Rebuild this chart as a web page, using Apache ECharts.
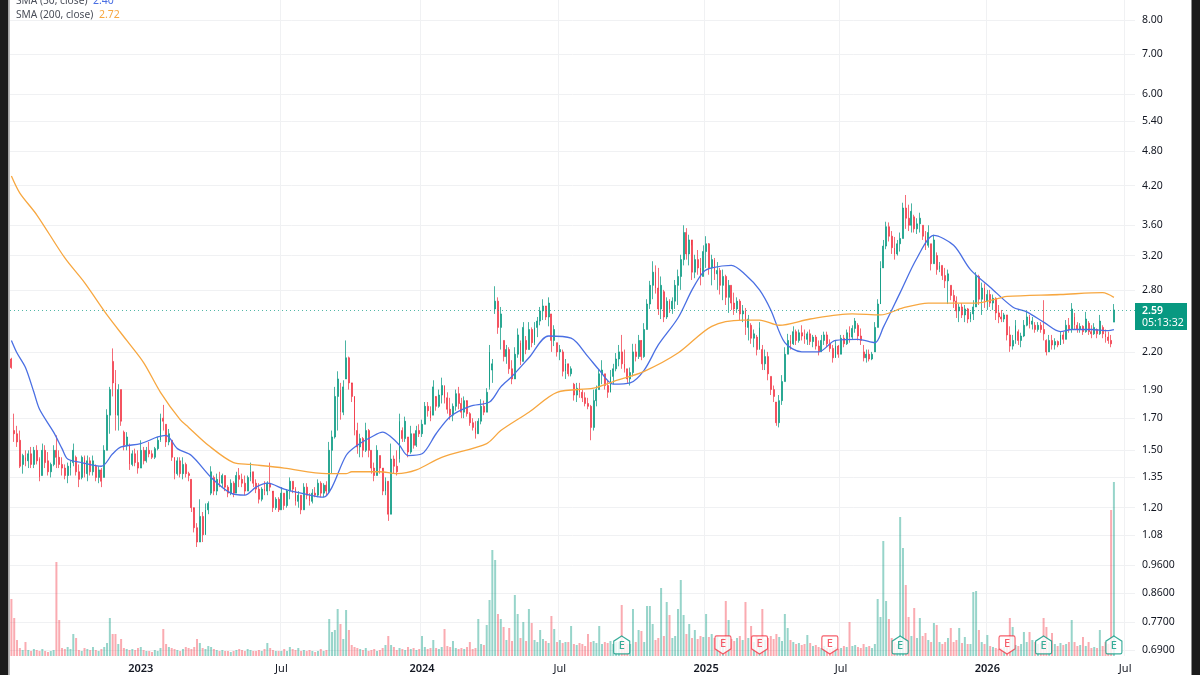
<!DOCTYPE html><html><head><meta charset="utf-8"></head><body style="margin:0;background:#fff"><div id="c" style="width:1200px;height:675px"></div>
<script src="https://cdn.jsdelivr.net/npm/echarts@6/dist/echarts.min.js"></script>
<script>
// open, high, low, close
const candles2022H2=[[2.14,2.15,2.06,2.07],[1.62,1.73,1.55,1.60],[1.60,1.65,1.52,1.55],[1.56,1.62,1.40,1.41],[1.42,1.48,1.37,1.47],[1.46,1.50,1.41,1.44],[1.44,1.50,1.40,1.48],[1.48,1.52,1.40,1.42],[1.42,1.52,1.40,1.50],[1.50,1.53,1.42,1.44],
[1.45,1.46,1.33,1.35],[1.36,1.54,1.36,1.50],[1.50,1.53,1.40,1.43],[1.44,1.49,1.36,1.38],[1.38,1.43,1.35,1.42],[1.42,1.53,1.41,1.50],[1.50,1.59,1.40,1.46],[1.46,1.50,1.40,1.42],[1.42,1.46,1.36,1.40],[1.40,1.42,1.34,1.36],
[1.36,1.43,1.32,1.41],[1.40,1.44,1.36,1.43],[1.43,1.54,1.41,1.50],[1.46,1.47,1.36,1.38],[1.38,1.42,1.30,1.34],[1.35,1.47,1.34,1.46],[1.46,1.47,1.35,1.37],[1.37,1.47,1.33,1.44],[1.44,1.46,1.36,1.38],[1.38,1.47,1.36,1.44],
[1.41,1.42,1.33,1.35],[1.35,1.41,1.32,1.39],[1.39,1.40,1.30,1.33],[1.35,1.53,1.35,1.50],[1.50,1.76,1.50,1.72],[1.72,1.92,1.60,1.90],[2.12,2.23,1.85,1.95],[1.95,2.05,1.62,1.72],[1.72,1.94,1.62,1.90],[1.90,1.90,1.65,1.68],
[1.61,1.62,1.50,1.53],[1.53,1.61,1.50,1.58],[1.53,1.54,1.39,1.42],[1.42,1.50,1.41,1.48],[1.48,1.51,1.41,1.43],[1.43,1.50,1.37,1.40]];
const candles2023H1=[[1.40,1.56,1.40,1.50],[1.50,1.52,1.42,1.44],[1.44,1.52,1.43,1.50],[1.50,1.55,1.46,1.48],[1.48,1.50,1.45,1.46],[1.46,1.52,1.45,1.51],[1.51,1.58,1.50,1.56],[1.56,1.73,1.55,1.70],[1.70,1.79,1.62,1.68],[1.66,1.66,1.52,1.55],
[1.55,1.63,1.53,1.60],[1.56,1.56,1.44,1.46],[1.46,1.46,1.34,1.37],[1.37,1.46,1.36,1.44],[1.44,1.46,1.35,1.37],[1.37,1.46,1.34,1.42],[1.42,1.43,1.35,1.37],[1.37,1.38,1.33,1.36],[1.34,1.34,1.18,1.20],[1.20,1.19,1.09,1.11],
[1.11,1.13,1.03,1.05],[1.05,1.24,1.05,1.16],[1.16,1.18,1.05,1.08],[1.08,1.22,1.08,1.19],[1.19,1.23,1.17,1.22],[1.27,1.41,1.26,1.38],[1.35,1.36,1.26,1.28],[1.28,1.37,1.26,1.34],[1.34,1.38,1.30,1.32],[1.32,1.37,1.30,1.36],
[1.36,1.36,1.28,1.30],[1.30,1.31,1.25,1.27],[1.27,1.34,1.26,1.32],[1.32,1.33,1.25,1.27],[1.27,1.38,1.27,1.36],[1.36,1.40,1.30,1.34],[1.34,1.37,1.30,1.32],[1.32,1.36,1.26,1.28],[1.28,1.36,1.28,1.35],[1.35,1.43,1.33,1.38],
[1.38,1.38,1.30,1.32],[1.32,1.34,1.27,1.29],[1.29,1.32,1.22,1.24],[1.24,1.30,1.23,1.29],[1.29,1.33,1.26,1.28],[1.28,1.33,1.26,1.32],[1.32,1.43,1.28,1.30],[1.28,1.27,1.18,1.20],[1.20,1.25,1.19,1.24],[1.24,1.25,1.18,1.19]];
const candles2023H2=[[1.19,1.30,1.19,1.27],[1.27,1.27,1.19,1.21],[1.21,1.29,1.20,1.28],[1.28,1.35,1.24,1.33],[1.33,1.33,1.27,1.29],[1.29,1.30,1.21,1.23],[1.23,1.28,1.20,1.26],[1.26,1.26,1.17,1.19],[1.19,1.32,1.19,1.30],[1.30,1.32,1.24,1.26],
[1.26,1.27,1.21,1.23],[1.23,1.29,1.22,1.27],[1.27,1.30,1.25,1.26],[1.26,1.34,1.25,1.32],[1.32,1.33,1.25,1.27],[1.27,1.32,1.25,1.31],[1.31,1.33,1.26,1.28],[1.28,1.55,1.27,1.50],[1.50,1.62,1.37,1.58],[1.58,1.92,1.57,1.85],
[1.85,2.04,1.62,1.98],[1.90,1.95,1.69,1.74],[1.74,1.97,1.72,1.92],[1.98,2.30,1.98,2.15],[2.15,2.16,1.90,1.95],[1.95,1.94,1.81,1.85],[1.85,1.81,1.59,1.62],[1.62,1.67,1.48,1.52],[1.52,1.60,1.46,1.57],[1.57,1.58,1.46,1.50],
[1.50,1.67,1.49,1.62],[1.62,1.63,1.46,1.50],[1.50,1.50,1.37,1.40],[1.40,1.43,1.33,1.36],[1.36,1.53,1.36,1.50],[1.47,1.47,1.37,1.40],[1.40,1.39,1.26,1.28],[1.28,1.35,1.26,1.33],[1.33,1.33,1.14,1.17],[1.17,1.54,1.17,1.45],
[1.45,1.47,1.37,1.41],[1.41,1.50,1.36,1.38],[1.45,1.73,1.43,1.68],[1.62,1.64,1.55,1.57],[1.57,1.71,1.55,1.68],[1.58,1.58,1.46,1.49],[1.49,1.65,1.48,1.60],[1.60,1.60,1.51,1.53],[1.53,1.65,1.52,1.62],[1.62,1.66,1.58,1.60]];
const candles2024H1=[[1.60,1.69,1.58,1.66],[1.66,1.81,1.66,1.78],[1.78,1.81,1.71,1.75],[1.75,1.78,1.68,1.70],[1.72,1.97,1.72,1.92],[1.85,1.84,1.75,1.78],[1.78,1.90,1.77,1.86],[1.86,1.99,1.80,1.93],[1.93,1.93,1.80,1.84],[1.84,1.88,1.73,1.76],
[1.76,1.84,1.69,1.72],[1.72,1.80,1.68,1.78],[1.78,1.90,1.75,1.87],[1.87,1.92,1.76,1.80],[1.80,1.84,1.70,1.74],[1.74,1.85,1.70,1.82],[1.82,1.81,1.71,1.73],[1.73,1.74,1.65,1.67],[1.67,1.70,1.62,1.64],[1.64,1.68,1.57,1.60],
[1.60,1.70,1.60,1.68],[1.68,1.83,1.66,1.78],[1.78,1.82,1.72,1.74],[1.74,1.91,1.74,1.88],[1.92,2.26,1.90,2.20],[2.05,2.14,1.95,2.10],[2.60,2.84,2.55,2.68],[2.68,2.72,2.36,2.42],[2.42,2.62,2.22,2.55],[2.30,2.30,2.12,2.16],
[2.16,2.26,2.10,2.22],[2.22,2.24,2.02,2.06],[2.06,2.13,1.94,1.98],[1.98,2.24,1.98,2.18],[2.18,2.41,2.15,2.35],[2.28,2.30,2.09,2.12],[2.12,2.47,2.12,2.42],[2.30,2.34,2.18,2.22],[2.22,2.47,2.22,2.40],[2.40,2.42,2.24,2.28],
[2.28,2.47,2.26,2.42],[2.42,2.52,2.33,2.48],[2.48,2.62,2.44,2.58],[2.58,2.70,2.49,2.63],[2.63,2.62,2.49,2.52],[2.52,2.72,2.43,2.66],[2.55,2.55,2.20,2.30],[2.30,2.44,2.25,2.40],[2.28,2.28,2.16,2.20],[2.20,2.26,2.13,2.22]];
const candles2024H2=[[2.20,2.22,2.00,2.04],[2.04,2.14,1.98,2.10],[2.10,2.07,2.00,2.02],[2.02,2.08,2.00,2.06],[1.94,1.95,1.82,1.86],[1.86,1.95,1.81,1.91],[1.91,1.95,1.84,1.88],[1.88,1.90,1.81,1.84],[1.84,1.88,1.78,1.80],[1.80,1.84,1.76,1.78],
[1.78,1.79,1.56,1.64],[1.64,1.90,1.62,1.82],[1.82,1.93,1.78,1.90],[1.90,2.05,1.90,2.02],[2.02,2.13,1.94,2.05],[2.02,2.02,1.90,1.93],[1.93,1.97,1.84,1.88],[1.88,2.05,1.88,2.00],[2.00,2.10,1.94,2.06],[2.06,2.19,2.04,2.14],
[2.14,2.26,2.08,2.20],[2.20,2.35,2.06,2.10],[2.10,2.22,2.03,2.06],[2.06,2.06,1.95,1.98],[1.98,2.07,1.93,2.03],[2.03,2.27,2.00,2.20],[2.20,2.27,2.12,2.16],[2.16,2.35,2.14,2.30],[2.30,2.29,2.13,2.16],[2.16,2.46,2.15,2.40],
[2.40,2.70,2.40,2.65],[2.65,2.90,2.60,2.85],[2.85,3.13,2.70,3.00],[3.00,3.08,2.76,2.82],[2.82,3.05,2.54,2.60],[2.60,2.95,2.50,2.85],[2.78,2.80,2.47,2.52],[2.52,2.72,2.50,2.68],[2.68,2.70,2.56,2.60],[2.60,2.72,2.55,2.68],
[2.68,2.91,2.60,2.85],[2.85,3.03,2.64,2.95],[2.95,3.21,2.80,3.15],[3.15,3.60,3.08,3.50],[3.50,3.56,3.15,3.22],[3.22,3.47,3.08,3.40],[3.40,3.33,2.91,3.00],[3.00,3.21,2.93,3.15],[3.15,3.27,2.97,3.05],[3.05,3.17,2.85,2.95],[2.95,3.33,2.95,3.25]];
const candles2025H1=[[3.25,3.45,3.05,3.35],[3.35,3.36,2.97,3.05],[3.05,3.21,2.85,3.15],[3.15,3.17,2.91,2.98],[2.98,3.12,2.80,3.02],[3.02,3.05,2.75,2.85],[2.85,3.03,2.69,2.95],[2.95,2.97,2.64,2.72],[2.72,2.91,2.56,2.85],[2.85,2.85,2.59,2.66],
[2.66,2.77,2.54,2.60],[2.60,2.72,2.56,2.68],[2.68,2.70,2.49,2.55],[2.55,2.64,2.47,2.58],[2.58,2.61,2.35,2.42],[2.42,2.54,2.30,2.50],[2.44,2.46,2.27,2.32],[2.32,2.40,2.24,2.36],[2.33,2.35,2.17,2.22],[2.22,2.47,2.22,2.42],
[2.22,2.26,2.05,2.10],[2.10,2.22,2.05,2.16],[2.16,2.20,1.97,2.02],[2.00,2.00,1.86,1.90],[1.90,1.93,1.81,1.85],[1.81,1.81,1.65,1.67],[1.67,1.86,1.64,1.82],[1.82,2.01,1.79,1.96],[1.96,2.24,1.96,2.18],[2.18,2.36,2.18,2.30],
[2.30,2.35,2.22,2.27],[2.27,2.43,2.26,2.38],[2.38,2.40,2.26,2.30],[2.30,2.40,2.28,2.37],[2.37,2.44,2.30,2.34],[2.34,2.40,2.27,2.31],[2.31,2.38,2.26,2.36],[2.36,2.40,2.26,2.29],[2.29,2.35,2.24,2.33],[2.33,2.35,2.22,2.25],
[2.25,2.30,2.17,2.20],[2.20,2.35,2.20,2.30],[2.30,2.38,2.26,2.35],[2.35,2.38,2.24,2.27],[2.27,2.31,2.20,2.23],[2.23,2.26,2.11,2.15],[2.15,2.30,2.15,2.25],[2.25,2.26,2.15,2.18],[2.18,2.35,2.18,2.32]];
const candles2025H2=[[2.32,2.35,2.24,2.27],[2.27,2.40,2.26,2.37],[2.37,2.43,2.28,2.33],[2.33,2.44,2.31,2.41],[2.41,2.51,2.37,2.48],[2.44,2.46,2.30,2.34],[2.34,2.41,2.26,2.30],[2.20,2.26,2.12,2.15],[2.15,2.22,2.11,2.18],[2.18,2.22,2.12,2.14],
[2.14,2.20,2.13,2.18],[2.20,2.47,2.20,2.42],[2.42,2.70,2.42,2.65],[2.65,3.13,2.65,3.05],[3.05,3.40,3.05,3.32],[3.32,3.65,3.28,3.58],[3.58,3.64,3.38,3.45],[3.45,3.52,3.22,3.30],[3.30,3.44,3.15,3.22],[3.22,3.40,3.20,3.35],
[3.35,3.50,3.25,3.42],[3.42,3.93,3.42,3.85],[3.85,4.05,3.55,3.70],[3.70,3.90,3.52,3.60],[3.60,3.92,3.50,3.80],[3.72,3.75,3.50,3.55],[3.55,3.70,3.48,3.62],[3.62,3.78,3.50,3.70],[3.60,3.60,3.40,3.45],[3.45,3.52,3.27,3.33],
[3.33,3.60,3.30,3.50],[3.35,3.35,3.02,3.10],[3.10,3.47,3.10,3.40],[3.20,3.24,2.97,3.03],[3.03,3.12,3.00,3.08],[3.08,3.08,2.91,2.96],[2.96,3.05,2.82,2.90],[2.90,3.03,2.65,2.98],[2.85,2.85,2.69,2.74],[2.74,2.80,2.61,2.68],
[2.68,2.73,2.51,2.58],[2.58,2.65,2.47,2.62],[2.62,2.66,2.51,2.54],[2.54,2.64,2.47,2.60],[2.60,2.61,2.46,2.50],[2.50,2.57,2.47,2.55],[2.55,2.69,2.49,2.62],[2.62,3.00,2.62,2.95],[2.95,2.97,2.64,2.70],[2.70,2.88,2.54,2.82],[2.82,2.87,2.61,2.68]];
const candles2026H1=[[2.68,2.80,2.59,2.75],[2.75,2.80,2.62,2.66],[2.66,2.75,2.59,2.71],[2.71,2.72,2.49,2.56],[2.56,2.64,2.46,2.52],[2.52,2.59,2.47,2.50],[2.50,2.56,2.47,2.54],[2.54,2.54,2.30,2.35],[2.35,2.43,2.20,2.25],[2.25,2.35,2.22,2.30],
[2.30,2.49,2.27,2.44],[2.38,2.40,2.26,2.30],[2.30,2.37,2.24,2.34],[2.34,2.49,2.33,2.44],[2.44,2.57,2.43,2.52],[2.52,2.54,2.41,2.45],[2.45,2.52,2.40,2.48],[2.44,2.47,2.37,2.40],[2.40,2.47,2.38,2.44],[2.44,2.47,2.37,2.40],
[2.40,2.69,2.30,2.36],[2.30,2.31,2.17,2.20],[2.20,2.35,2.20,2.30],[2.30,2.35,2.22,2.26],[2.26,2.32,2.22,2.29],[2.29,2.30,2.24,2.26],[2.26,2.38,2.26,2.35],[2.35,2.38,2.27,2.31],[2.31,2.49,2.31,2.44],[2.44,2.51,2.37,2.40],
[2.40,2.66,2.37,2.60],[2.52,2.56,2.40,2.44],[2.44,2.47,2.37,2.40],[2.40,2.46,2.37,2.43],[2.43,2.44,2.35,2.38],[2.38,2.57,2.37,2.50],[2.46,2.48,2.35,2.38],[2.38,2.44,2.32,2.36],[2.36,2.46,2.35,2.42],[2.40,2.41,2.32,2.36],
[2.36,2.54,2.35,2.48],[2.42,2.44,2.32,2.36],[2.36,2.40,2.28,2.33],[2.33,2.38,2.27,2.30],[2.30,2.35,2.24,2.27],[2.47,2.65,2.47,2.59]];
// volume, relative units
const volume2022H2=[57,38,16,8,6,14,6,5,7,6,5,7,5,4,5,6,94,36,8,7,9,7,22,18,6,5,8,7,6,9,6,5,7,9,13,38,22,22,12,17,8,7,6,7,6,8];
const volume2023H1=[9,6,5,5,4,6,5,8,27,12,9,8,7,6,5,7,9,8,7,9,17,13,8,7,10,9,7,6,5,6,5,5,4,5,6,7,6,5,7,6,5,5,6,5,7,13,8,6,5,5];
const volume2023H2=[5,7,5,9,7,6,8,5,6,5,6,5,4,5,7,5,6,37,24,26,47,32,17,46,26,11,9,8,7,6,8,5,6,7,5,6,8,11,20,11,9,6,8,7,6,9,7,8,6,7];
const volume2024H1=[20,9,7,8,16,8,7,9,27,10,9,15,8,7,8,7,9,14,7,8,37,12,11,31,56,106,96,42,37,29,16,28,15,61,42,18,34,15,47,33,16,14,26,17,15,13,40,27,14,16];
const volume2024H2=[13,14,14,30,12,11,13,12,10,22,14,15,13,30,12,14,13,15,12,14,14,51,14,12,12,47,14,26,25,14,50,50,32,16,18,68,20,54,41,18,20,47,76,41,22,32,18,26,17,20,19];
const volume2025H1=[42,19,22,18,20,16,18,55,36,17,15,18,20,16,54,18,30,14,20,18,47,16,18,20,17,22,19,15,42,28,16,14,12,13,11,12,21,13,10,11,9,8,10,8,7,8,9,7,8];
const volume2025H2=[10,9,34,10,11,9,8,12,9,10,8,12,57,39,115,55,37,18,14,12,139,108,71,39,20,48,18,38,20,23,16,14,33,31,14,12,14,18,28,14,16,28,13,19,12,12,64,65,26,14,12];
const volume2026H1=[21,10,9,8,7,8,9,10,38,29,11,10,12,24,14,24,16,14,12,13,38,29,14,23,12,10,13,11,12,14,36,14,10,11,19,10,14,8,9,8,26,10,14,12,146,174];
// moving averages: [candle number, price]
const sma50=[[0,2.30],[2,2.19],[5,2.07],[8,1.88],[10,1.76],[15,1.61],[18,1.51],[20,1.45],[25,1.43],[32,1.41],[36,1.48],[39,1.52],[46,1.54],[52,1.58],[55,1.59],[59,1.51],[64,1.47],[71,1.35],[78,1.27],[83,1.26],[87,1.30],[91,1.32],[97,1.29],[103,1.27],[111,1.25],[114,1.30],[119,1.47],[123,1.53],[128,1.58],[132,1.61],[135,1.58],[138,1.53],[141,1.47],[146,1.48],[151,1.60],[156,1.71],[163,1.78],[170,1.81],[174,1.92],[178,2.00],[184,2.15],[191,2.34],[199,2.32],[205,2.16],[209,2.05],[214,1.94],[220,1.95],[225,2.05],[230,2.26],[237,2.51],[242,2.80],[246,3.00],[249,3.05],[256,3.08],[261,2.97],[266,2.80],[270,2.59],[275,2.28],[281,2.20],[287,2.20],[293,2.30],[301,2.31],[307,2.28],[310,2.42],[316,2.77],[322,3.17],[328,3.46],[335,3.33],[341,3.03],[348,2.83],[356,2.62],[361,2.57],[367,2.47],[373,2.38],[377,2.40],[384,2.40],[390,2.39],[392,2.40]];
const sma200=[[0,4.36],[3,4.08],[9,3.75],[19,3.17],[26,2.88],[34,2.54],[41,2.30],[47,2.11],[53,1.88],[60,1.69],[63,1.64],[70,1.53],[79,1.43],[85,1.42],[97,1.40],[112,1.37],[119,1.37],[121,1.38],[131,1.38],[137,1.37],[144,1.39],[153,1.46],[169,1.54],[174,1.62],[184,1.74],[194,1.88],[207,1.91],[214,1.96],[225,2.04],[237,2.19],[249,2.43],[260,2.49],[266,2.49],[273,2.44],[284,2.50],[299,2.55],[309,2.54],[317,2.61],[326,2.66],[343,2.66],[351,2.71],[354,2.73],[373,2.75],[388,2.77],[392,2.72]];
const priceTicks=[8,7,6,5.4,4.8,4.2,3.6,3.2,2.8,2.2,1.9,1.7,1.5,1.35,1.2,1.08,0.96,0.86,0.77,0.69];
const tickIndexes=[46,96,146,195,247,295,347,396];
const tickLabels=['2023','Jul','2024','Jul','2025','Jul','2026','Jul'];
const earningsBeat=[217,316,367,392];
const earningsMiss=[253,266,291,354];
const lastPrice=2.59, countdown='05:13:32', sma50Last='2.40', sma200Last='2.72';
const UP='#089981', DOWN='#F23645', FONT='"Noto Sans",sans-serif';

const candles=[].concat(candles2022H2,candles2023H1,candles2023H2,candles2024H1,candles2024H2,candles2025H1,candles2025H2,candles2026H1);
const volumes=[].concat(volume2022H2,volume2023H1,volume2023H2,volume2024H1,volume2024H2,volume2025H1,volume2025H2,volume2026H1);
const blankAfter=7;
const categories=[];
for(let i=0;i<candles.length+blankAfter;i++){categories.push(String(i));}
const isUp=i=>candles[i][3]>=candles[i][0];
const markerY=0.7036;
const ch=echarts.init(document.getElementById('c'));
ch.setOption({animation:false,backgroundColor:'#fff',
grid:{left:10,right:65,top:0,height:656,outerBoundsMode:'none'},
xAxis:{type:'category',data:categories,axisLine:{show:false},axisTick:{show:false,alignWithLabel:true},
 axisLabel:{interval:i=>tickIndexes.includes(i),margin:7,hideOverlap:false,
  formatter:(v,i)=>{const t=tickLabels[tickIndexes.indexOf(i)]||'';return t==='Jul'?t:'{y|'+t+'}';},
  color:'#131722',fontFamily:FONT,fontSize:11,rich:{y:{fontFamily:FONT,fontSize:11,fontWeight:600,color:'#131722'}}},
 splitLine:{show:true,interval:i=>tickIndexes.includes(i),showMaxLine:false,showMinLine:false,lineStyle:{color:'#f0f1f3',width:1}}},
yAxis:[{type:'log',logBase:10,min:0.674,max:8.647,position:'right',axisLine:{show:false},
 axisTick:{show:false,customValues:priceTicks},
 axisLabel:{customValues:priceTicks,margin:7,align:'left',padding:[2,0,0,0],color:'#131722',fontFamily:FONT,fontSize:10.5,formatter:v=>v<1?v.toFixed(4):v.toFixed(2)},
 splitLine:{show:true,lineStyle:{color:'#f0f1f3',width:1}}},
 {type:'value',min:0,max:656,show:false,splitLine:{show:false}}],
series:[
{name:'Volume',type:'bar',yAxisIndex:1,barWidth:2,z:1,silent:true,
 data:volumes.map((v,i)=>({value:v,itemStyle:{color:isUp(i)?'rgba(8,153,129,0.42)':'rgba(242,54,69,0.42)'}}))},
{name:'Price',type:'candlestick',z:3,barWidth:1.4,
 data:candles.map(r=>[r[0],r[3],r[2],r[1]]),
 itemStyle:{color:UP,color0:DOWN,borderColor:UP,borderColor0:DOWN,borderWidth:0.8,opacity:0.92},
 markLine:{silent:true,symbol:'none',label:{show:false},lineStyle:{color:UP,type:[1,3],width:1,opacity:0.7},data:[{yAxis:lastPrice}]}},
{name:'SMA 50',type:'line',data:sma50,showSymbol:false,smooth:0.3,z:4,lineStyle:{color:'#4a6fe3',width:1.3}},
{name:'SMA 200',type:'line',data:sma200,showSymbol:false,smooth:0.3,z:4,lineStyle:{color:'#f7a740',width:1.3}},
{name:'Earnings beat',type:'scatter',z:6,data:earningsBeat.map(k=>[k,markerY]),symbol:'path://M10 0 L20 6 V19 Q20 21 18 21 H2 Q0 21 0 19 V6 Z',symbolSize:[16,18],
 itemStyle:{color:'#fff',borderColor:UP,borderWidth:1.2},label:{show:true,position:'inside',formatter:'E',color:UP,fontFamily:FONT,fontSize:11,fontWeight:500,offset:[0,1]}},
{name:'Earnings miss',type:'scatter',z:6,data:earningsMiss.map(k=>[k,markerY]),symbol:'path://M2 0 H18 Q20 0 20 2 V15 L10 21 L0 15 V2 Q0 0 2 0 Z',symbolSize:[16,18],
 itemStyle:{color:'#fff',borderColor:DOWN,borderWidth:1.2},label:{show:true,position:'inside',formatter:'E',color:DOWN,fontFamily:FONT,fontSize:11,fontWeight:500,offset:[0,-1]}}
],
graphic:[
{type:'rect',shape:{x:0,y:0,width:8.5,height:675},style:{fill:'#1b1b1b'},z:20},
{type:'rect',shape:{x:8.5,y:0,width:1.5,height:675},style:{fill:'#b9b9b9'},z:20},
{type:'rect',shape:{x:1191.5,y:0,width:8.5,height:675},style:{fill:'#1b1b1b'},z:20},
{type:'text',x:16,y:1,z:21,style:{text:'SMA (50, close)',fill:'#4a4e59',font:'10.2px '+FONT,textVerticalAlign:'middle'}},
{type:'text',x:93,y:1,z:21,style:{text:sma50Last,fill:'#4a6fe3',font:'10.5px '+FONT,textVerticalAlign:'middle'}},
{type:'text',x:16,y:15,z:21,style:{text:'SMA (200, close)',fill:'#4a4e59',font:'10.2px '+FONT,textVerticalAlign:'middle'}},
{type:'text',x:99,y:15,z:21,style:{text:sma200Last,fill:'#f7a740',font:'10.5px '+FONT,textVerticalAlign:'middle'}},
{type:'rect',shape:{x:1135,y:303,width:52,height:27},style:{fill:UP},z:21},
{type:'text',x:1142,y:311,z:22,style:{text:lastPrice.toFixed(2),fill:'#fff',font:'600 10.5px '+FONT,textVerticalAlign:'middle'}},
{type:'text',x:1142,y:323,z:22,style:{text:countdown,fill:'#fff',font:'10.5px '+FONT,textVerticalAlign:'middle'}}
]});
</script></body></html>
